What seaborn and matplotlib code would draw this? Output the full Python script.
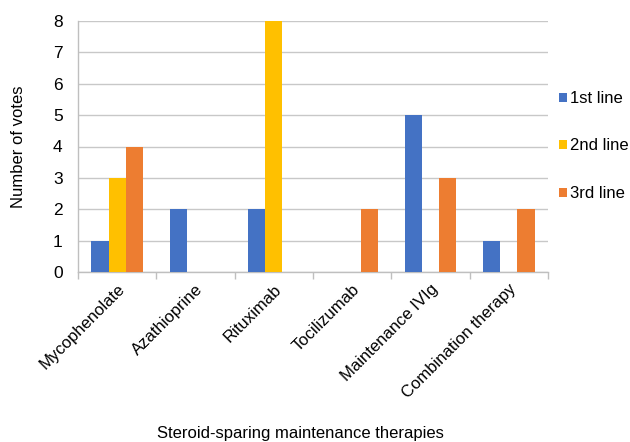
import matplotlib
matplotlib.use("Agg")
import matplotlib.pyplot as plt
import seaborn as sns
import pandas as pd

therapies = ["Mycophenolate", "Azathioprine", "Rituximab", "Tocilizumab",
             "Maintenance IVIg", "Combination therapy"]
first_line = [1, 2, 2, 0, 5, 1]
second_line = [3, 0, 8, 0, 0, 0]
third_line = [4, 0, 0, 2, 3, 2]
series_names = ["1st line", "2nd line", "3rd line"]
colors = ["#4472C4", "#FFC000", "#ED7D31"]

rows = []
for name, vals in zip(series_names, [first_line, second_line, third_line]):
    for t, v in zip(therapies, vals):
        rows.append({"therapy": t, "line": name, "votes": v})
df = pd.DataFrame(rows)

sns.set_theme(style="white")
plt.rcParams["font.family"] = ["Liberation Sans", "DejaVu Sans"]
plt.rcParams["text.color"] = "black"
plt.rcParams["axes.labelcolor"] = "black"
plt.rcParams["xtick.color"] = "black"
plt.rcParams["ytick.color"] = "black"

W, H = 630, 442
fig = plt.figure(figsize=(W / 100, H / 100), dpi=100)
ax = fig.add_axes([78 / W, 1 - 272 / H, 470 / W, 251 / H])

sns.barplot(data=df, x="therapy", y="votes", hue="line", order=therapies,
            hue_order=series_names, palette=colors, width=0.66, gap=0,
            saturation=1, linewidth=0, ax=ax, zorder=3)

ax.set_ylim(0, 8)
ax.set_xlim(-0.5, len(therapies) - 0.5)
ax.set_yticks(range(0, 9))
ax.yaxis.grid(True, color="#C8C8C8", linewidth=1, zorder=0)
ax.set_axisbelow(True)

for side in ["top", "right"]:
    ax.spines[side].set_visible(False)
for side in ["left", "bottom"]:
    ax.spines[side].set_color("#BFBFBF")
    ax.spines[side].set_linewidth(1)

# category separators as tick marks below the axis
ax.set_xticks([i - 0.5 for i in range(len(therapies) + 1)], minor=True)
ax.tick_params(axis="x", which="minor", length=5, color="#BFBFBF", width=1,
               bottom=True)
ax.tick_params(axis="x", which="major", length=0, pad=7)
ax.tick_params(axis="y", length=0, pad=11, labelsize=12.5)
ax.set_xticks(range(len(therapies)))
ax.set_xticklabels(therapies, rotation=45, ha="right", rotation_mode="anchor",
                   fontsize=12)

ax.set_ylabel("Number of votes", fontsize=12)
ax.yaxis.set_label_coords((26 - 78) / 470, 0.5)
ax.set_xlabel("Steroid-sparing maintenance therapies", fontsize=12)
ax.xaxis.set_label_coords((300 - 78) / 470, -(426 - 272) / 251)

ax.legend(title=None, frameon=False, loc="center left",
          bbox_to_anchor=(551 / W, 1 - 146 / H), bbox_transform=fig.transFigure,
          borderpad=0, fontsize=12, handlelength=0.45, handleheight=0.45,
          handletextpad=0.2, labelspacing=1.95)

fig.savefig("out.png", dpi=100)
